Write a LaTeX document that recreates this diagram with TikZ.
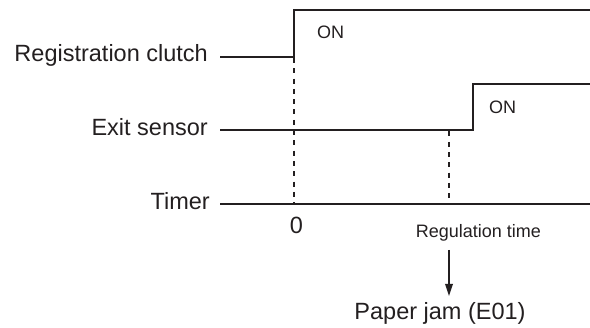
\documentclass[tikz,border=0pt]{standalone}
\usepackage{fontspec}
\setmainfont{Liberation Sans}
\usetikzlibrary{arrows.meta}
\definecolor{ink}{HTML}{231F20}
\begin{document}
\begin{tikzpicture}[x=1pt,y=-1pt,
  sig/.style={draw=ink,line width=2pt,line join=miter},
  dsh/.style={draw=ink,line width=2pt,dash pattern=on 5pt off 5.3pt},
  lab/.style={inner sep=0pt,text=ink,font=\fontsize{23.5}{26}\selectfont},
  onlab/.style={inner sep=0pt,text=ink,font=\fontsize{18}{20}\selectfont},
  small/.style={inner sep=0pt,text=ink,font=\fontsize{18}{20}\selectfont},
  arr/.style={draw=ink,line width=1.7pt,-{Triangle[length=12pt,width=7.5pt]}}]
\useasboundingbox (0,0) rectangle (590,328);
% labels
\node[lab,anchor=base east] (regl) at (208,62) {Registration clutch};
\node[lab,anchor=base east] (exitl) at (208,135.5) {Exit sensor};
\node[lab,anchor=base east] (timl) at (210,209.5) {Timer};
% registration clutch trace
\coordinate (r0) at (220,57);
\coordinate (r1) at (294,57);
\coordinate (r2) at (294,10);
\coordinate (r3) at (590,10);
\draw[sig] (r0) -- (r1) -- (r2) -- (r3);
\node[onlab,anchor=base west] (on1) at (317,39) {ON};
% exit sensor trace
\coordinate (e0) at (220,130.5);
\coordinate (e1) at (473,130.5);
\coordinate (e2) at (473,84);
\coordinate (e3) at (590,84);
\draw[sig] (e0) -- (e1) -- (e2) -- (e3);
\node[onlab,anchor=base west] (on2) at (489,114) {ON};
% timer
\coordinate (t0) at (220,204);
\coordinate (t1) at (590,204);
\draw[sig] (t0) -- (t1);
% dashed markers
\coordinate (d0a) at (294,58);
\coordinate (d0b) at (294,204);
\coordinate (d1a) at (449,131.5);
\coordinate (d1b) at (449,204);
\draw[dsh] (d0a) -- (d0b);
\draw[dsh] (d1a) -- (d1b);
\node[lab,anchor=base] (zero) at (296.5,234) {0};
\node[small,anchor=base] (regt) at (478.5,238) {Regulation time};
% result
\node[lab,anchor=base] (pj) at (440,320) {Paper jam (E01)};
\coordinate (a0) at (449,250);
\coordinate (a1) at (449,296);
\draw[arr] (a0) -- (a1);
\end{tikzpicture}
\end{document}
